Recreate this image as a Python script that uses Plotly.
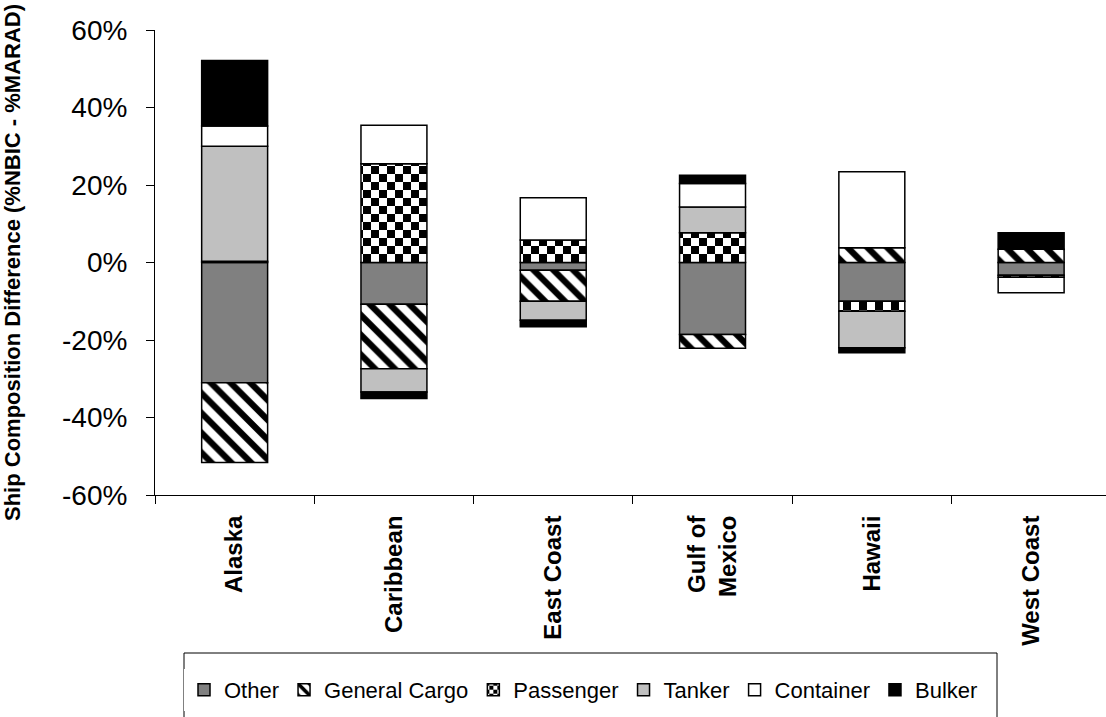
import plotly.graph_objects as go

# Regions along the x axis
regions = ["Alaska", "Caribbean", "East Coast", "Gulf of<br>Mexico", "Hawaii", "West Coast"]

# Ship composition difference (%NBIC - %MARAD), as fractions
other = [-0.310, -0.108, -0.020, -0.186, -0.100, -0.033]
general_cargo = [-0.206, -0.166, -0.080, -0.035, 0.038, 0.034]
passenger = [0.003, 0.255, 0.058, 0.077, -0.026, -0.005]
tanker = [0.297, -0.060, -0.049, 0.066, -0.094, 0.0]
container = [0.052, 0.099, 0.109, 0.061, 0.196, -0.040]
bulker = [0.169, -0.017, -0.017, 0.021, -0.013, 0.043]

# Axis tick values and labels
y_ticks = [0.6, 0.4, 0.2, 0.0, -0.2, -0.4, -0.6]
y_tick_labels = ["60%", "40%", "20%", "0%", "-20%", "-40%", "-60%"]

FONT = "Liberation Sans, Arial, sans-serif"

series = [
    ("Other", other, dict(color="#808080")),
    ("General Cargo", general_cargo,
     dict(color="#ffffff", pattern=dict(shape="\\", fgcolor="#000000", bgcolor="#ffffff",
                                        size=14, solidity=0.45, fillmode="replace"))),
    ("Passenger", passenger,
     dict(color="#ffffff", pattern=dict(shape=".", fgcolor="#000000", bgcolor="#ffffff",
                                        size=16, solidity=0.5, fillmode="replace"))),
    ("Tanker", tanker, dict(color="#c0c0c0")),
    ("Container", container, dict(color="#ffffff")),
    ("Bulker", bulker, dict(color="#000000")),
]

fig = go.Figure()
for name, values, marker in series:
    marker = dict(marker)
    marker["line"] = dict(color="#000000", width=1.5)
    fig.add_trace(go.Bar(x=regions, y=values, name=name, marker=marker))

fig.update_layout(
    width=1106,
    height=717,
    barmode="relative",
    bargap=0.586,
    plot_bgcolor="#ffffff",
    paper_bgcolor="#ffffff",
    margin=dict(l=155, r=0, t=30, b=222, autoexpand=False),
    font=dict(family=FONT, color="#000000"),
    showlegend=True,
    legend=dict(
        orientation="h",
        x=0.0305,
        xanchor="left",
        y=-0.374,
        yanchor="top",
        borderwidth=0,
        font=dict(size=22, family=FONT),
        traceorder="normal",
    ),
    # frame around the legend, running off the bottom edge of the page
    shapes=[dict(type="rect", xref="paper", yref="paper",
                 x0=0.0305, x1=0.8854, y0=-0.3398, y1=-0.56,
                 line=dict(color="#000000", width=1), fillcolor="rgba(0,0,0,0)",
                 layer="below")],
    xaxis=dict(
        type="category",
        range=[-0.5, 5.47],
        showline=True,
        linecolor="#000000",
        linewidth=1,
        ticks="outside",
        tickson="boundaries",
        ticklen=8,
        tickcolor="#000000",
        tickangle=-90,
        tickfont=dict(size=24, family=FONT, weight="bold"),
        ticklabelstandoff=10,
        showgrid=False,
        zeroline=False,
    ),
    yaxis=dict(
        range=[-0.6, 0.6],
        tickvals=y_ticks,
        ticktext=y_tick_labels,
        showline=True,
        linecolor="#000000",
        linewidth=1,
        ticks="outside",
        ticklen=8,
        tickcolor="#000000",
        tickfont=dict(size=28, family=FONT),
        ticklabelstandoff=13,
        showgrid=False,
        zeroline=False,
        title=dict(text="Ship Composition Difference (%NBIC - %MARAD)",
                   font=dict(size=22, family=FONT, weight="bold"), standoff=40),
    ),
)

# Passenger fill: two-colour checkerboard tile
checker_js = """
var gd = document.getElementById('{plot_id}');
function checkerTiles() {
  var ns = 'http://www.w3.org/2000/svg';
  document.querySelectorAll('pattern').forEach(function (p) {
    if (!p.querySelector('circle')) return;
    var s = parseFloat(p.getAttribute('width'));
    var h = s / 2;
    while (p.firstChild) p.removeChild(p.firstChild);
    [[0, 0, s, s, '#ffffff'], [0, 0, h, h, '#000000'], [h, h, h, h, '#000000']].forEach(function (r) {
      var e = document.createElementNS(ns, 'rect');
      e.setAttribute('x', r[0]); e.setAttribute('y', r[1]);
      e.setAttribute('width', r[2]); e.setAttribute('height', r[3]);
      e.setAttribute('fill', r[4]);
      p.appendChild(e);
    });
  });
}
checkerTiles();
gd.on('plotly_afterplot', checkerTiles);
"""

fig.write_html("out.html", post_script=checker_js)
